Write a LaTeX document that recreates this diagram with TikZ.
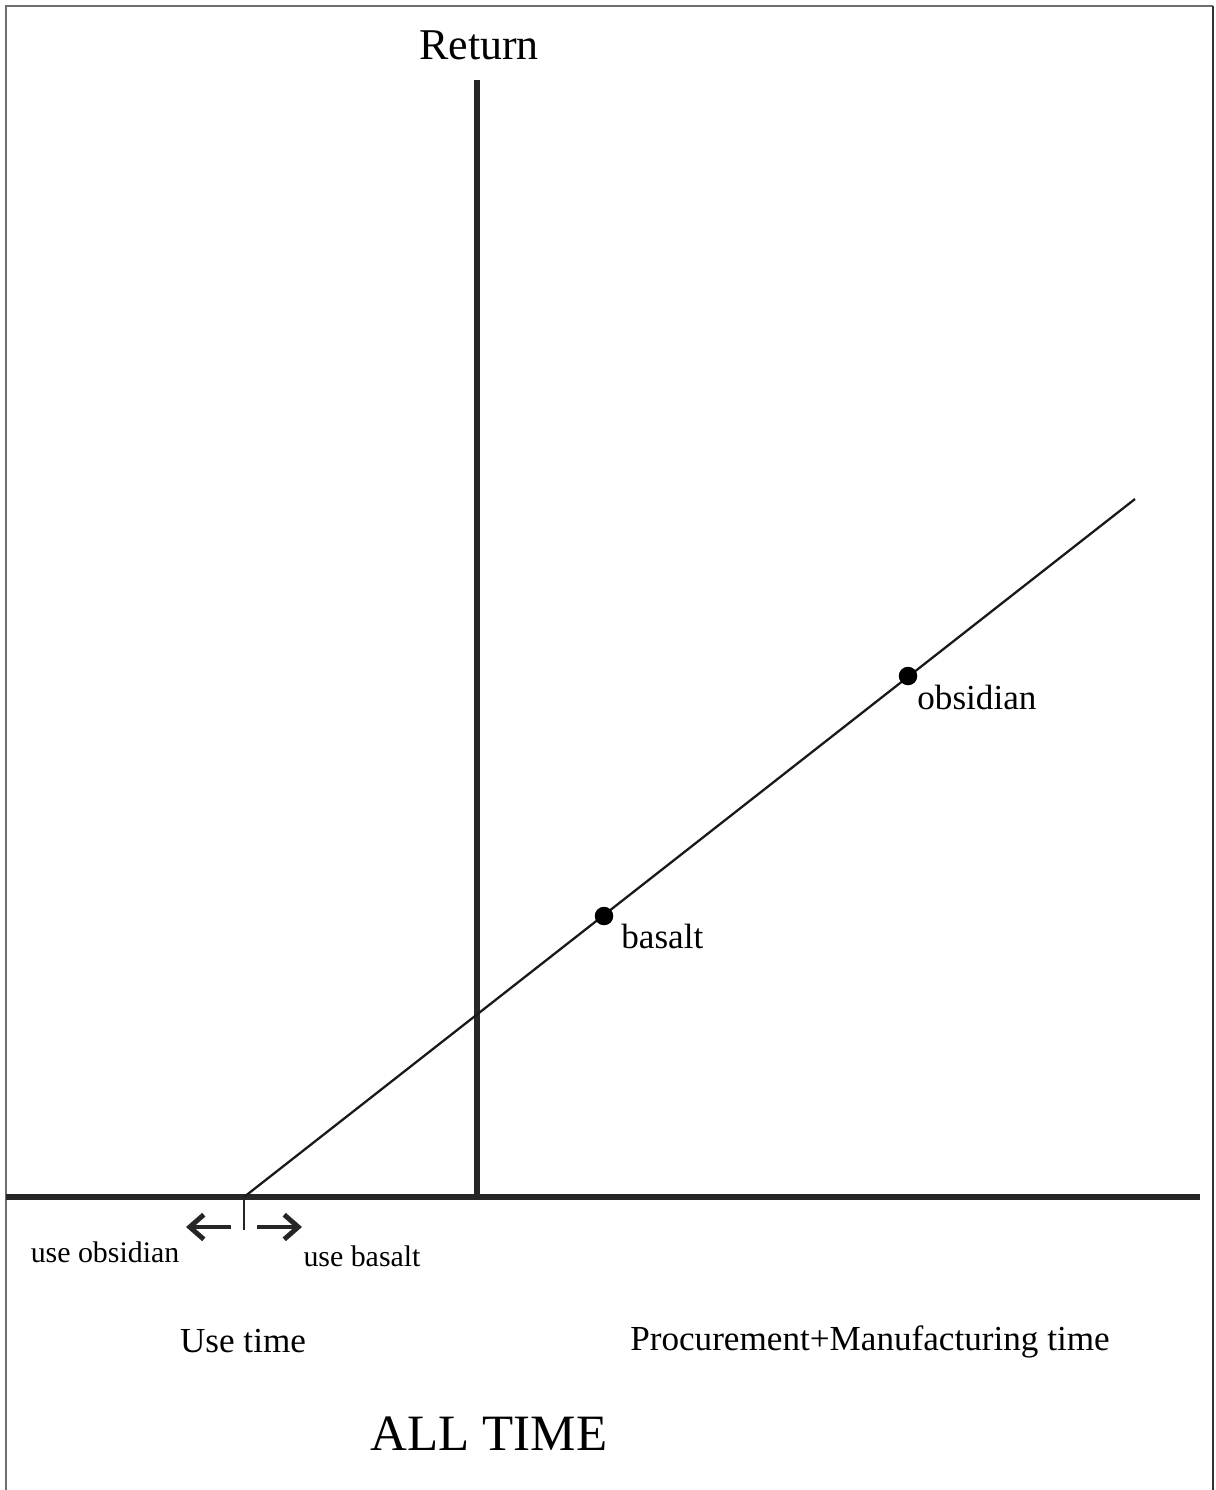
\documentclass[tikz,border=0pt]{standalone}
\usepackage{fontspec}
\setmainfont{Liberation Serif}
\usepackage{xcolor}
\definecolor{framegray}{RGB}{110,110,110}
\usetikzlibrary{arrows.meta, positioning, calc}

\begin{document}
\begin{tikzpicture}[
    x=0.02cm, y=-0.02cm,
    >={Straight Barb[length=8pt, width=14pt]},
    axis/.style={line width=3pt, black!85},
    trend/.style={line width=1.3pt, black!90},
    stone/.style={circle, fill=black, inner sep=0pt, minimum size=0.37cm},
    lbl/.style={inner sep=0pt, font=\fontsize{20}{22}\selectfont},
    small/.style={inner sep=0pt, font=\fontsize{17}{19}\selectfont},
    pointer/.style={->, line width=2.8pt, black!85}
  ]
  \useasboundingbox (0,0) rectangle (1215,1490);

  % Frame (open at the bottom)
  \draw[framegray, line width=1.3pt] (6,1490) -- (6,6) -- (1213,6);
  \draw[black!80, line width=1.3pt] (1213,6) -- (1213,1490);

  % Axes
  \coordinate (origin) at (477,1197);
  \coordinate (xend) at (1200,1197);
  \coordinate (xstart) at (6,1197);
  \coordinate (ytop) at (477,80);
  \draw[axis] (xstart) -- (xend);
  \draw[axis] (origin) -- (ytop);
  \node (return) at (479,45) [inner sep=0pt, font=\fontsize{25}{28}\selectfont] {Return};

  % Return line and stones
  \coordinate (cross) at (244,1197);
  \coordinate (lineend) at (1135,499);
  \draw[trend] (cross) -- (lineend);
  \node (basaltdot) at (604,916) [stone] {};
  \node (obsidiandot) at (908,676) [stone] {};
  \node (basalt) at (621,936) [lbl, anchor=west] {basalt};
  \node (obsidian) at (917,697) [lbl, anchor=west] {obsidian};

  % Break-even tick and choice arrows
  \coordinate (ticktop) at (244,1199);
  \coordinate (tickbot) at (244,1230);
  \draw[line width=1.5pt, black!85] (ticktop) -- (tickbot);
  \coordinate (leftfrom) at (231,1227);
  \coordinate (leftto) at (186,1227);
  \coordinate (rightfrom) at (257,1227);
  \coordinate (rightto) at (302,1227);
  \draw[pointer] (leftfrom) -- (leftto);
  \draw[pointer] (rightfrom) -- (rightto);
  \node (useobs) at (105,1252) [small] {use obsidian};
  \node (usebas) at (362,1256) [small] {use basalt};

  % Time labels
  \node (usetime) at (243,1341) [lbl] {Use time};
  \node (proctime) at (870,1342) [lbl] {Procurement+Manufacturing time};
  \node (alltime) at (489,1434) [inner sep=0pt, font=\fontsize{29}{32}\selectfont] {ALL TIME};

\end{tikzpicture}
\end{document}
